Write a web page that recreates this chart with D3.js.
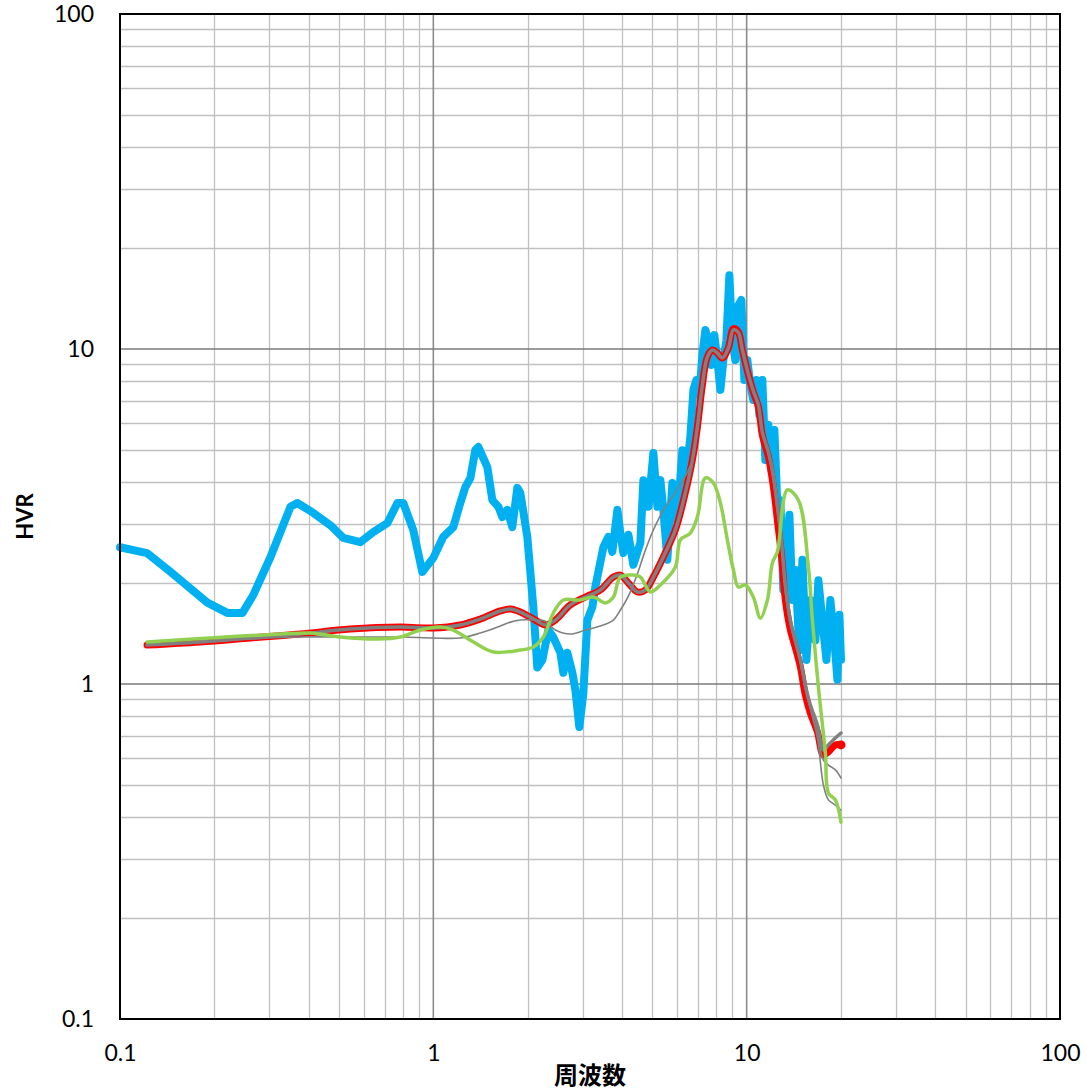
<!DOCTYPE html>
<html>
<head>
<meta charset="utf-8">
<script src="https://cdn.jsdelivr.net/npm/d3@7"></script>
<style>
  body { margin: 0; background: #ffffff; }
  svg { display: block; }
</style>
</head>
<body>
<svg id="chart" width="1087" height="1090"></svg>
<script>
// Axis ticks and titles
const xTickValues = [0.1, 1, 10, 100];
const xTickLabels = ["0.1", "1", "10", "100"];
const yTickValues = [0.1, 1, 10, 100];
const yTickLabels = ["0.1", "1", "10", "100"];
const xTitle = "周波数";
const yTitle = "HVR";

// Observed H/V spectral ratio (blue)
const blueFreq = [0.1, 0.122, 0.145, 0.19, 0.22, 0.246, 0.266, 0.302, 0.35, 0.368,
  0.414, 0.469, 0.516, 0.585, 0.643, 0.713, 0.768, 0.802, 0.863, 0.922,
  1.0, 1.076, 1.158, 1.219, 1.265, 1.313, 1.361, 1.392, 1.487, 1.543,
  1.613, 1.661, 1.722, 1.787, 1.854, 1.895, 1.995, 2.085, 2.147, 2.228,
  2.328, 2.415, 2.543, 2.6, 2.677, 2.778, 2.84, 2.924, 3.012, 3.101,
  3.218, 3.289, 3.488, 3.619, 3.727, 3.867, 3.954, 4.042, 4.193, 4.35,
  4.579, 4.681, 4.857, 5.038, 5.188, 5.304, 5.422, 5.583, 5.793, 6.009,
  6.234, 6.373, 6.612, 6.76, 6.911, 7.063, 7.222, 7.383, 7.548, 7.716,
  7.887, 8.064, 8.244, 8.426, 8.614, 8.806, 9.002, 9.204, 9.408, 9.618,
  9.833, 10.05, 10.27, 10.5, 10.74, 10.98, 11.22, 11.47, 11.73, 11.99,
  12.26, 12.53, 12.81, 13.09, 13.39, 13.69, 13.99, 14.31, 14.73, 15.06,
  15.51, 15.97, 16.57, 16.94, 17.44, 17.97, 18.5, 19.05, 19.48, 19.77, 20.0];
const blueHvr = [2.56, 2.46, 2.16, 1.75, 1.63, 1.63, 1.84, 2.39, 3.38, 3.47,
  3.24, 2.98, 2.73, 2.65, 2.84, 3.02, 3.47, 3.47, 2.88, 2.16,
  2.38, 2.75, 2.94, 3.47, 3.87, 4.12, 4.99, 5.10, 4.44, 3.54,
  3.38, 3.15, 3.31, 2.94, 3.85, 3.72, 2.75, 1.70, 1.12, 1.18,
  1.45, 1.38, 1.24, 1.08, 1.24, 1.08, 0.96, 0.744, 0.94, 1.55,
  1.70, 1.95, 2.56, 2.75, 2.48, 3.31, 2.82, 2.46, 2.79, 2.27,
  2.64, 4.06, 3.38, 4.89, 3.38, 4.06, 3.31, 2.35, 3.98, 3.09,
  4.99, 4.06, 5.46, 7.55, 8.08, 7.29, 9.60, 11.4, 10.6, 8.96,
  11.0, 9.27, 7.55, 9.27, 10.6, 16.6, 10.6, 9.27, 13.5, 14.0,
  8.08, 9.27, 7.81, 7.04, 8.08, 6.35, 8.08, 4.66, 5.93, 4.35,
  5.73, 3.42, 3.54, 1.91, 2.35, 3.20, 1.78, 2.19, 1.26, 2.35,
  1.18, 1.78, 1.35, 2.04, 1.55, 1.18, 1.78, 1.35, 1.03, 1.61, 1.18];

// Smoothed model curves share one frequency grid
const smoothFreq = [0.122, 0.18, 0.261, 0.376, 0.543, 0.785, 1.0, 1.219, 1.413, 1.636,
  1.762, 1.895, 2.117, 2.278, 2.452, 2.737, 3.056, 3.412, 3.754, 3.954,
  4.193, 4.479, 4.751, 5.038, 5.422, 5.921, 6.325, 6.711, 6.962, 7.222,
  7.491, 7.772, 8.064, 8.364, 8.742, 9.071, 9.408, 9.69, 10.13, 10.5,
  10.9, 11.22, 11.73, 12.17, 12.53, 12.91, 13.29, 13.79, 14.31, 14.84,
  15.39, 15.97, 16.82, 17.57, 18.23, 19.19, 20.0];
const redHvr = [1.307, 1.335, 1.372, 1.41, 1.459, 1.479, 1.469, 1.5, 1.563, 1.652,
  1.675, 1.64, 1.552, 1.5, 1.552, 1.722, 1.818, 1.908, 2.086, 2.115,
  2.002, 1.882, 1.908, 2.086, 2.394, 2.883, 3.616, 4.664, 5.851, 7.807,
  9.465, 9.931, 9.729, 9.4, 10.07, 11.5, 11.24, 9.931, 8.364, 7.439,
  6.713, 5.537, 4.761, 3.873, 3.087, 2.427, 1.781, 1.449, 1.281, 1.124,
  0.927, 0.819, 0.719, 0.614, 0.627, 0.658, 0.658];
const grayBandHvr = [1.307, 1.335, 1.372, 1.41, 1.459, 1.479, 1.469, 1.5, 1.563, 1.652,
  1.675, 1.64, 1.552, 1.5, 1.552, 1.722, 1.818, 1.908, 2.086, 2.115,
  2.002, 1.882, 1.908, 2.086, 2.394, 2.883, 3.616, 4.664, 5.851, 7.807,
  9.465, 9.931, 9.729, 9.4, 10.07, 11.4, 11.2, 9.95, 8.4, 7.5,
  6.8, 5.65, 4.93, 4.21, 3.42, 2.69, 1.97, 1.55, 1.35, 1.18,
  0.993, 0.866, 0.754, 0.635, 0.658, 0.69, 0.714];
const grayThinHvr = [1.307, 1.335, 1.362, 1.381, 1.381, 1.381, 1.372, 1.372, 1.42, 1.49,
  1.53, 1.552, 1.552, 1.54, 1.449, 1.41, 1.449, 1.49, 1.552, 1.663,
  1.83, 2.13, 2.51, 2.883, 3.306, 3.74, 4.121, 4.664, 5.851, 7.807,
  9.465, 9.931, 9.729, 9.4, 10.07, 11.4, 11.2, 9.95, 8.4, 7.5,
  6.8, 5.65, 4.93, 4.21, 3.42, 2.69, 1.97, 1.55, 1.35, 1.18,
  0.993, 0.866, 0.704, 0.593, 0.573, 0.554, 0.524];
const grayLowHvr = [1.307, 1.335, 1.372, 1.41, 1.459, 1.479, 1.469, 1.5, 1.563, 1.652,
  1.675, 1.64, 1.552, 1.5, 1.552, 1.722, 1.818, 1.908, 2.086, 2.115,
  2.002, 1.882, 1.908, 2.086, 2.394, 2.883, 3.616, 4.664, 5.851, 7.807,
  9.465, 9.931, 9.729, 9.4, 10.07, 11.4, 11.2, 9.95, 8.4, 7.5,
  6.8, 5.6, 4.85, 4.0, 3.25, 2.55, 1.88, 1.5, 1.31, 1.15,
  0.96, 0.84, 0.69, 0.50, 0.451, 0.435, 0.42];

// Alternative model (green)
const greenFreq = [0.122, 0.194, 0.325, 0.405, 0.505, 0.663, 0.785, 0.909, 1.053, 1.158,
  1.342, 1.554, 1.895, 2.085, 2.245, 2.415, 2.6, 2.946, 3.242, 3.54,
  3.754, 3.954, 4.35, 4.579, 4.927, 5.304, 5.921, 6.143, 6.612, 6.962,
  7.383, 7.83, 8.244, 8.677, 9.071, 9.408, 9.904, 10.5, 11.06, 11.65,
  12.08, 12.53, 13.49, 14.62, 15.74, 16.21, 16.94, 17.83, 18.23, 19.19, 20.0];
const greenHvr = [1.335, 1.372, 1.41, 1.42, 1.381, 1.362, 1.381, 1.449, 1.479, 1.449,
  1.335, 1.246, 1.263, 1.289, 1.381, 1.629, 1.781, 1.781, 1.818, 1.745,
  1.818, 2.086, 2.115, 2.086, 1.882, 1.975, 2.235, 2.692, 2.823, 3.151,
  4.121, 3.981, 3.47, 2.692, 2.19, 1.948, 1.975, 1.818, 1.574, 1.781,
  2.297, 2.478, 3.795, 3.542, 2.235, 1.552, 0.98, 0.622, 0.473, 0.4506, 0.387];

// Plot frame
const plot = { left: 120, right: 1060, top: 14, bottom: 1019 };

const svg = d3.select("#chart");
const x = d3.scaleLog().domain([0.1, 100]).range([plot.left, plot.right]);
const y = d3.scaleLog().domain([0.1, 100]).range([plot.bottom, plot.top]);

const isMajor = v => xTickValues.some(t => Math.abs(Math.log10(v) - Math.log10(t)) < 1e-6);

// Minor gridlines
const grid = svg.append("g");
grid.selectAll("line.vminor").data(x.ticks().filter(v => !isMajor(v)))
  .join("line").attr("class", "vminor")
  .attr("x1", d => Math.round(x(d)) + 0.5).attr("x2", d => Math.round(x(d)) + 0.5)
  .attr("y1", plot.top).attr("y2", plot.bottom)
  .attr("stroke", "#c0c0c0").attr("stroke-width", 1.3);
grid.selectAll("line.hminor").data(y.ticks().filter(v => !isMajor(v)))
  .join("line").attr("class", "hminor")
  .attr("y1", d => Math.round(y(d)) + 0.5).attr("y2", d => Math.round(y(d)) + 0.5)
  .attr("x1", plot.left).attr("x2", plot.right)
  .attr("stroke", "#c0c0c0").attr("stroke-width", 1.3);
// Major gridlines
grid.selectAll("line.vmajor").data(xTickValues.slice(1, -1))
  .join("line").attr("class", "vmajor")
  .attr("x1", d => x(d)).attr("x2", d => x(d))
  .attr("y1", plot.top).attr("y2", plot.bottom)
  .attr("stroke", "#8c8c8c").attr("stroke-width", 1.6);
grid.selectAll("line.hmajor").data(yTickValues.slice(1, -1))
  .join("line").attr("class", "hmajor")
  .attr("y1", d => y(d)).attr("y2", d => y(d))
  .attr("x1", plot.left).attr("x2", plot.right)
  .attr("stroke", "#7a7a7a").attr("stroke-width", 1.6);

// Series
const pts = (fs, vs) => fs.map((f, i) => [f, vs[i]]);
const smooth = d3.line().x(d => x(d[0])).y(d => y(d[1])).curve(d3.curveCatmullRom.alpha(0.5));
const straight = d3.line().x(d => x(d[0])).y(d => y(d[1]));

const series = svg.append("g").attr("fill", "none")
  .attr("stroke-linejoin", "round").attr("stroke-linecap", "round");

series.append("path").attr("d", straight(pts(blueFreq, blueHvr)))
  .attr("stroke", "#00b0f0").attr("stroke-width", 8);
series.append("path").attr("d", smooth(pts(smoothFreq, redHvr)))
  .attr("stroke", "#ff0000").attr("stroke-width", 7);
series.append("path").attr("d", smooth(pts(smoothFreq, grayLowHvr)))
  .attr("stroke", "#808080").attr("stroke-width", 1.6);
series.append("path").attr("d", smooth(pts(smoothFreq, grayThinHvr)))
  .attr("stroke", "#808080").attr("stroke-width", 1.6);
series.append("path").attr("d", smooth(pts(smoothFreq, grayBandHvr)))
  .attr("stroke", "#808080").attr("stroke-width", 3.5);
series.append("path").attr("d", smooth(pts(greenFreq, greenHvr)))
  .attr("stroke", "#92d050").attr("stroke-width", 3.5);
svg.append("circle")
  .attr("cx", x(smoothFreq[smoothFreq.length - 1]))
  .attr("cy", y(redHvr[redHvr.length - 1]))
  .attr("r", 4.5).attr("fill", "#ff0000");

// Plot border
svg.append("rect")
  .attr("x", plot.left).attr("y", plot.top)
  .attr("width", plot.right - plot.left).attr("height", plot.bottom - plot.top)
  .attr("fill", "none").attr("stroke", "#000000").attr("stroke-width", 2);

// Tick labels
const labelFont = "Lato, 'Open Sans', sans-serif";
const xAxis = svg.append("g").attr("transform", `translate(0,${plot.bottom})`)
  .call(d3.axisBottom(x).tickValues(xTickValues)
    .tickFormat((d, i) => xTickLabels[i]).tickSize(0).tickPadding(26));
const yAxis = svg.append("g").attr("transform", `translate(${plot.left},0)`)
  .call(d3.axisLeft(y).tickValues(yTickValues)
    .tickFormat((d, i) => yTickLabels[i]).tickSize(0).tickPadding(26));
[xAxis, yAxis].forEach(g => {
  g.select(".domain").remove();
  g.selectAll("text").attr("font-family", labelFont).attr("font-size", 23).attr("fill", "#000");
});

// Axis titles
svg.append("text")
  .attr("x", (plot.left + plot.right) / 2).attr("y", 1084)
  .attr("text-anchor", "middle")
  .attr("font-family", "'Noto Sans CJK JP', sans-serif")
  .attr("font-weight", "bold").attr("font-size", 24)
  .text(xTitle);
svg.append("text")
  .attr("transform", `translate(33,${(plot.top + plot.bottom) / 2}) rotate(-90)`)
  .attr("text-anchor", "middle")
  .attr("font-family", labelFont)
  .attr("font-weight", "bold").attr("font-size", 22)
  .text(yTitle);
</script>
</body>
</html>
